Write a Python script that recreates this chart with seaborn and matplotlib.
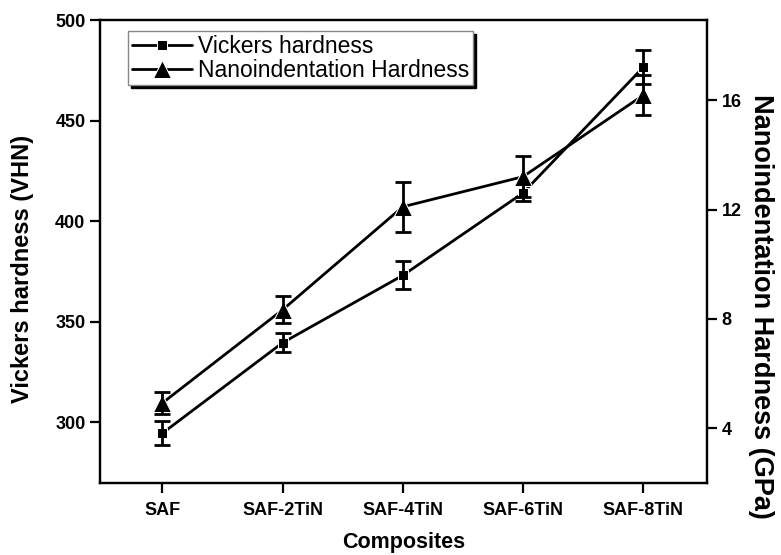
import numpy as np
import pandas as pd
import matplotlib
matplotlib.use("Agg")
import matplotlib.pyplot as plt
import seaborn as sns

# data
composites = ["SAF", "SAF-2TiN", "SAF-4TiN", "SAF-6TiN", "SAF-8TiN"]
vickers = [294.5, 339.5, 373.0, 414.0, 476.5]
vickers_err = [6.0, 4.7, 7.0, 4.0, 8.5]
nano = [4.92, 8.33, 12.1, 13.2, 16.18]
nano_err = [0.4, 0.5, 0.92, 0.75, 0.73]

sns.set_style("ticks")
plt.rcParams['font.family'] = ['Liberation Sans', 'DejaVu Sans']
plt.rcParams['axes.linewidth'] = 1.6
for key in ("text.color", "axes.labelcolor", "axes.edgecolor",
            "xtick.color", "ytick.color"):
    plt.rcParams[key] = "black"

df = pd.DataFrame({"pos": np.arange(len(composites)), "vickers": vickers,
                   "nano": nano})

fig = plt.figure(figsize=(7.81, 5.55), dpi=100)
ax = fig.add_axes([0.128, 0.1297, 0.777, 0.834])
ax2 = ax.twinx()

#%% Vickers hardness (left axis)
sns.lineplot(x="pos", y="vickers", data=df, ax=ax, color="black", lw=2,
             marker="s", markersize=6.5, label="Vickers hardness", legend=False)
ax.errorbar(df["pos"], df["vickers"], yerr=vickers_err, fmt="none",
            ecolor="black", elinewidth=2, capsize=6, capthick=2)

#%% Nanoindentation hardness (right axis)
sns.lineplot(x="pos", y="nano", data=df, ax=ax2, color="black", lw=2,
             marker="^", markersize=13, label="Nanoindentation Hardness",
             legend=False)
ax2.errorbar(df["pos"], df["nano"], yerr=nano_err, fmt="none",
             ecolor="black", elinewidth=2, capsize=6, capthick=2)

ax.set_xlim(-0.52, 4.53)
ax.set_ylim(269.7, 500)
ax2.set_ylim(1.99, 18.93)

ax.set_xticks(df["pos"])
ax.set_xticklabels(composites, fontsize=13, fontweight="bold")
ax.set_yticks([300, 350, 400, 450, 500])
ax.set_yticklabels([300, 350, 400, 450, 500], fontsize=13, fontweight="bold")
ax2.set_yticks([4, 8, 12, 16])
ax2.set_yticklabels([4, 8, 12, 16], fontsize=13, fontweight="bold")

for a in (ax, ax2):
    a.tick_params(direction="out", length=7, width=1.6, colors="black")
    for s in a.spines.values():
        s.set_visible(True)
        s.set_linewidth(1.6)
        s.set_color("black")
ax.tick_params(axis="x", pad=7)

ax.set_xlabel("Composites", fontsize=15.5, fontweight="bold", labelpad=9)
ax.set_ylabel("Vickers hardness (VHN)", fontsize=17, fontweight="bold")
ax.yaxis.set_label_coords(-0.109, 0.462)
ax2.set_ylabel("Nanoindentation Hardness (GPa)", fontsize=19.5,
               fontweight="bold", rotation=270, va="bottom")
ax2.yaxis.set_label_coords(1.0675, 0.382)

h1, l1 = ax.get_legend_handles_labels()
h2, l2 = ax2.get_legend_handles_labels()
leg = ax2.legend(h1 + h2, l1 + l2, loc="upper left",
                 bbox_to_anchor=(0.047, 0.976), borderaxespad=0,
                 fontsize=16.5, frameon=True, fancybox=False,
                 shadow={"color": "black", "alpha": 1},
                 handlelength=2.6, handletextpad=0.3, borderpad=0.15,
                 labelspacing=0.05)
leg.get_frame().set_edgecolor("#888888")
leg.get_frame().set_linewidth(1)
leg.get_frame().set_alpha(1)

fig.savefig("out.png", dpi=100)
